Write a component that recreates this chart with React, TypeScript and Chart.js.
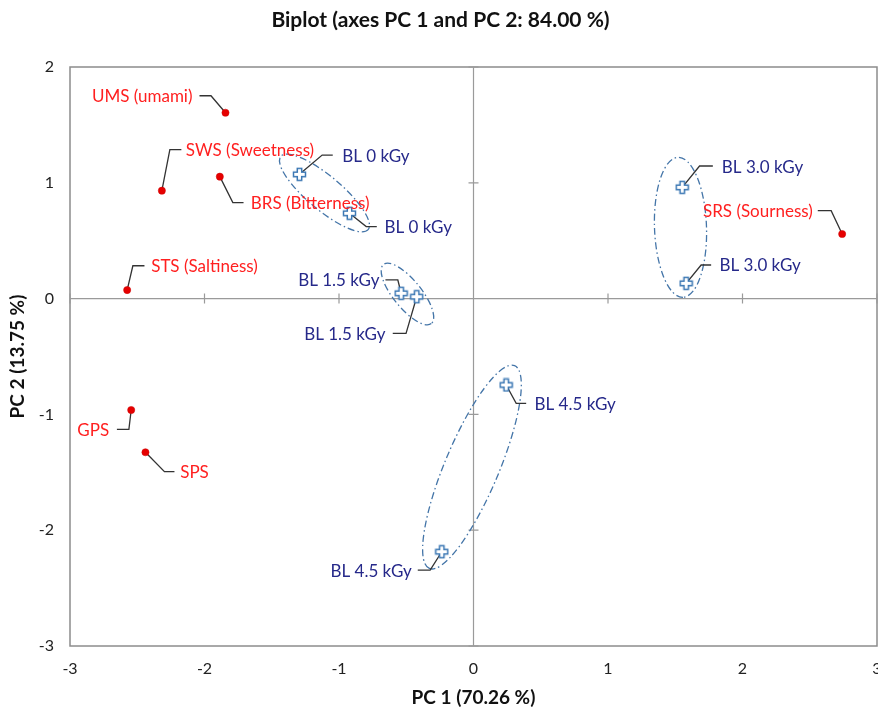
import React, { useEffect, useRef } from 'react';
import { Chart, registerables } from 'chart.js';

Chart.register(...registerables);

// ---------- data ----------
const attributeNames = ['UMS (umami)', 'SWS (Sweetness)', 'BRS (Bitterness)', 'STS (Saltiness)', 'GPS', 'SPS', 'SRS (Sourness)'];
const attributePC1 = [-1.844, -2.317, -1.886, -2.575, -2.545, -2.439, 2.741];
const attributePC2 = [1.605, 0.932, 1.053, 0.074, -0.962, -1.327, 0.558];

const sampleNames = ['BL 0 kGy', 'BL 0 kGy', 'BL 1.5 kGy', 'BL 1.5 kGy', 'BL 3.0 kGy', 'BL 3.0 kGy', 'BL 4.5 kGy', 'BL 4.5 kGy'];
const samplePC1 = [-1.294, -0.922, -0.538, -0.422, 1.552, 1.581, 0.243, -0.236];
const samplePC2 = [1.073, 0.737, 0.046, 0.016, 0.961, 0.132, -0.746, -2.186];
const sampleGroups = [0, 0, 1, 1, 2, 2, 3, 3];

const xTickValues = [-3, -2, -1, 0, 1, 2, 3];
const yTickValues = [-3, -2, -1, 0, 1, 2];

const chartTitle = 'Biplot (axes PC 1 and PC 2: 84.00 %)';
const xTitle = 'PC 1 (70.26 %)';
const yTitle = 'PC 2 (13.75 %)';

// ---------- layout (pixel offsets relative to each point) ----------
// [elbowDx, elbowDy, endDx, endDy, textDx]
const attributeLeaders = [
  [-14.5, -17, -26, -17, -33],
  [8, -41, 19.5, -41, 24],
  [13, 26, 23.7, 26, 31],
  [5.7, -24.3, 17.3, -24.3, 24],
  [-2.3, 19.3, -14.3, 19.3, -22],
  [19, 19.4, 29, 19.4, 34.7],
  [-11, -23.3, -24.4, -23.3, -29.4],
];
const sampleLeaders = [
  [22.7, -19.3, 33.3, -19.3, 42.7],
  [16.7, 13.3, 27.3, 13.3, 35],
  [-3.3, -13.3, -15.7, -13.3, -21.7],
  [-10.7, 36.7, -24, 36.7, -31.3],
  [17.3, -21.3, 30.6, -21.3, 39.6],
  [15, -18.3, 25, -18.3, 33.3],
  [10, 18.3, 20, 18.3, 28.3],
  [-11.6, 18.3, -24, 18.3, -30],
];
// per group: [centerDx, centerDy (from pair midpoint), semiMajor, semiMinor, angleDeg]
const groupEllipses = [
  [0, -0.8, 57, 17, 40],
  [-1.5, -1, 38, 14, 51],
  [-3.7, -8, 70, 26, 88],
  [-2, -1.3, 110, 27, 112.8],
];

const FONT = 'Lato, "Open Sans", sans-serif';
const RED = '#ff1f1f';
const BLUE_TEXT = '#26298a';
const CROSS_COLOR = '#3c78b4';

function makeCross(): HTMLCanvasElement {
  const c = document.createElement('canvas');
  c.width = 15;
  c.height = 15;
  const g = c.getContext('2d')!;
  const m = 7.5, L = 6, w = 2.2;
  const pts = [[-w, -L], [w, -L], [w, -w], [L, -w], [L, w], [w, w], [w, L], [-w, L], [-w, w], [-L, w], [-L, -w], [-w, -w]];
  g.beginPath();
  pts.forEach(([a, b], i) => (i ? g.lineTo(m + a, m + b) : g.moveTo(m + a, m + b)));
  g.closePath();
  g.fillStyle = '#ffffff';
  g.fill();
  g.strokeStyle = CROSS_COLOR;
  g.lineWidth = 1.5;
  g.stroke();
  return c;
}

const decorPlugin = {
  id: 'biplotDecor',
  beforeDatasetsDraw(chart: any) {
    const { ctx, chartArea: a, scales } = chart;
    const xs = scales.x, ys = scales.y;
    ctx.save();
    // frame
    ctx.strokeStyle = '#8c8c8c';
    ctx.lineWidth = 1.5;
    ctx.strokeRect(a.left, a.top, a.right - a.left, a.bottom - a.top);
    // zero lines
    const x0 = xs.getPixelForValue(0);
    const y0 = ys.getPixelForValue(0);
    ctx.strokeStyle = '#9a9a9a';
    ctx.lineWidth = 1.2;
    ctx.beginPath();
    ctx.moveTo(a.left, y0);
    ctx.lineTo(a.right, y0);
    ctx.moveTo(x0, a.top);
    ctx.lineTo(x0, a.bottom);
    xTickValues.forEach((v) => {
      const px = xs.getPixelForValue(v);
      ctx.moveTo(px, y0 - 5);
      ctx.lineTo(px, y0 + 5);
    });
    yTickValues.forEach((v) => {
      const py = ys.getPixelForValue(v);
      ctx.moveTo(x0 - 5, py);
      ctx.lineTo(x0 + 5, py);
    });
    ctx.stroke();
    // ellipses
    ctx.strokeStyle = '#4475a8';
    ctx.lineWidth = 1.3;
    ctx.setLineDash([7, 3, 1.5, 3]);
    groupEllipses.forEach((e, gi) => {
      const idx = sampleGroups.map((g, i) => (g === gi ? i : -1)).filter((i) => i >= 0);
      const mx = idx.reduce((s, i) => s + xs.getPixelForValue(samplePC1[i]), 0) / idx.length;
      const my = idx.reduce((s, i) => s + ys.getPixelForValue(samplePC2[i]), 0) / idx.length;
      ctx.beginPath();
      ctx.ellipse(mx + e[0], my + e[1], e[2], e[3], (e[4] * Math.PI) / 180, 0, Math.PI * 2);
      ctx.stroke();
    });
    ctx.setLineDash([]);
    // leader lines
    ctx.strokeStyle = '#333333';
    ctx.lineWidth = 1.3;
    const leaders = (px: number[], py: number[], L: number[][]) => {
      L.forEach((l, i) => {
        const x = xs.getPixelForValue(px[i]);
        const y = ys.getPixelForValue(py[i]);
        ctx.beginPath();
        ctx.moveTo(x, y);
        ctx.lineTo(x + l[0], y + l[1]);
        ctx.lineTo(x + l[2], y + l[3]);
        ctx.stroke();
      });
    };
    leaders(attributePC1, attributePC2, attributeLeaders);
    leaders(samplePC1, samplePC2, sampleLeaders);
    ctx.restore();
  },
  afterDatasetsDraw(chart: any) {
    const { ctx, scales } = chart;
    const xs = scales.x, ys = scales.y;
    ctx.save();
    ctx.font = `17px ${FONT}`;
    ctx.textBaseline = 'middle';
    const labels = (names: string[], px: number[], py: number[], L: number[][], color: string) => {
      ctx.fillStyle = color;
      names.forEach((n, i) => {
        const x = xs.getPixelForValue(px[i]);
        const y = ys.getPixelForValue(py[i]);
        const l = L[i];
        ctx.textAlign = l[4] >= 0 ? 'left' : 'right';
        ctx.fillText(n, x + l[4], y + l[3] + 1);
      });
    };
    labels(attributeNames, attributePC1, attributePC2, attributeLeaders, RED);
    labels(sampleNames, samplePC1, samplePC2, sampleLeaders, BLUE_TEXT);
    ctx.restore();
  },
};

export default function App() {
  const ref = useRef<HTMLCanvasElement>(null);
  useEffect(() => {
    const canvas = ref.current!;
    const cross = makeCross();
    const tickFont = { family: FONT, size: 16 };
    const titleFont = { family: FONT, size: 21, weight: 'bold' as const };
    const axisTitleFont = { family: FONT, size: 19, weight: 'bold' as const };
    const chart = new Chart(canvas, {
      type: 'scatter',
      data: {
        datasets: [
          {
            label: 'Attributes',
            data: attributePC1.map((v, i) => ({ x: v, y: attributePC2[i] })),
            pointStyle: 'circle',
            pointRadius: 3.6,
            backgroundColor: '#e60000',
            borderColor: '#cc0000',
            borderWidth: 0.5,
          },
          {
            label: 'Samples',
            data: samplePC1.map((v, i) => ({ x: v, y: samplePC2[i] })),
            pointStyle: cross as any,
            pointRadius: 7,
          },
        ],
      },
      options: {
        animation: false,
        responsive: false,
        devicePixelRatio: 1,
        events: [],
        layout: { padding: 0, autoPadding: false },
        plugins: {
          legend: { display: false },
          tooltip: { enabled: false },
          title: {
            display: true,
            text: chartTitle,
            color: '#111111',
            font: titleFont,
            padding: { top: 8, bottom: 33.8 },
          },
        },
        scales: {
          x: {
            type: 'linear',
            min: -3,
            max: 3,
            afterBuildTicks: (s: any) => {
              s.ticks = xTickValues.map((v) => ({ value: v }));
            },
            afterFit: (s: any) => {
              s.height = 65;
              s.paddingRight = 4;
              s.paddingLeft = 0;
            },
            ticks: { font: tickFont, color: '#222222', padding: 13, maxRotation: 0, autoSkip: false },
            grid: { display: false, drawTicks: false },
            border: { display: false },
            title: { display: true, text: xTitle, color: '#111111', font: axisTitleFont, padding: { top: 0, bottom: 1.6 } },
          },
          y: {
            type: 'linear',
            min: -3,
            max: 2,
            afterBuildTicks: (s: any) => {
              s.ticks = yTickValues.map((v) => ({ value: v }));
            },
            afterFit: (s: any) => {
              s.width = 70;
            },
            ticks: { font: tickFont, color: '#222222', padding: 16, autoSkip: false },
            grid: { display: false, drawTicks: false },
            border: { display: false },
            title: { display: true, text: yTitle, color: '#111111', font: axisTitleFont, padding: { top: 6.6, bottom: 0 } },
          },
        },
      },
      plugins: [decorPlugin],
    });
    return () => chart.destroy();
  }, []);
  return (
    <div style={{ position: 'absolute', left: 0, top: 0, width: 878, height: 711, overflow: 'hidden', background: '#ffffff' }}>
      <canvas ref={ref} width={881} height={711} style={{ display: 'block' }} />
    </div>
  );
}
